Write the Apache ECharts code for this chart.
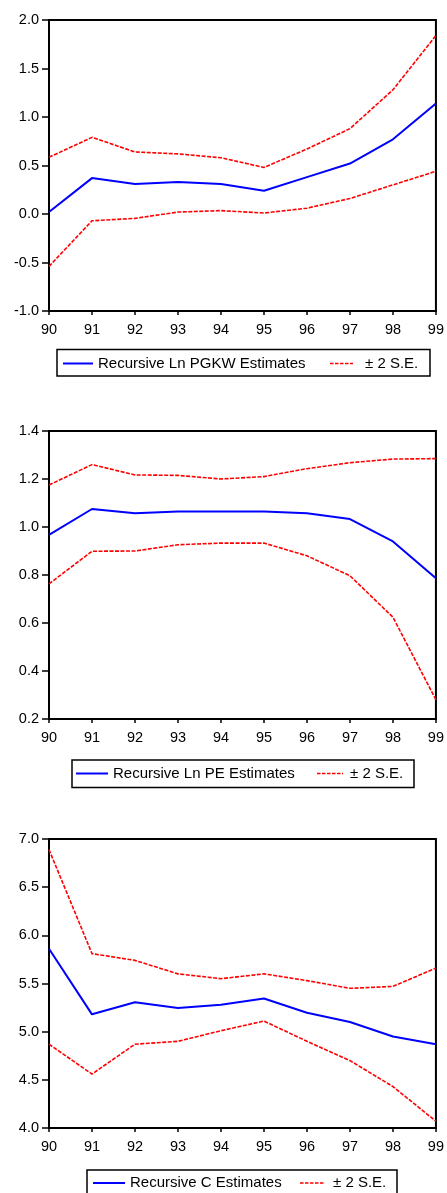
<!DOCTYPE html>
<html>
<head>
<meta charset="utf-8">
<script src="https://cdn.jsdelivr.net/npm/echarts@6/dist/echarts.min.js"></script>
<style>
html,body{margin:0;padding:0;background:#fff;}
#chart{width:447px;height:1193px;}
</style>
</head>
<body>
<div id="chart"></div>
<script>
// ---- data ----
const years = ['90','91','92','93','94','95','96','97','98','99'];

const pgkwEst   = [0.02, 0.37, 0.31, 0.33, 0.31, 0.24, 0.38, 0.52, 0.77, 1.14];
const pgkwUpper = [0.585, 0.79, 0.64, 0.62, 0.58, 0.48, 0.67, 0.88, 1.28, 1.84];
const pgkwLower = [-0.54, -0.07, -0.045, 0.02, 0.035, 0.01, 0.06, 0.16, 0.30, 0.44];

const peEst   = [0.967, 1.075, 1.057, 1.065, 1.065, 1.065, 1.057, 1.033, 0.94, 0.786];
const peUpper = [1.175, 1.26, 1.217, 1.215, 1.20, 1.21, 1.243, 1.268, 1.283, 1.285];
const peLower = [0.763, 0.899, 0.90, 0.926, 0.933, 0.933, 0.88, 0.797, 0.624, 0.28];

const cEst   = [5.86, 5.18, 5.306, 5.245, 5.28, 5.345, 5.196, 5.10, 4.95, 4.87];
const cUpper = [6.89, 5.81, 5.74, 5.60, 5.55, 5.60, 5.53, 5.45, 5.47, 5.66];
const cLower = [4.87, 4.56, 4.87, 4.90, 5.01, 5.11, 4.90, 4.70, 4.43, 4.07];

const estNames = ['Recursive Ln PGKW Estimates', 'Recursive Ln PE Estimates', 'Recursive C Estimates'];
const seName = '\u00b1 2 S.E.';

const yTicks = [
  {min: -1.0, max: 2.0, interval: 0.5},
  {min: 0.2, max: 1.4, interval: 0.2},
  {min: 4.0, max: 7.0, interval: 0.5}
];

// ---- layout ----
const FONT = '"Liberation Sans", Arial, sans-serif';
const grids = [
  {left: 49, right: 10, top: 20, height: 291},
  {left: 49, right: 10, top: 431, height: 288},
  {left: 49, right: 10, top: 839, height: 289}
];
const legends = [
  {x: 57, y: 349.5, w: 373, h: 26.5, cy: 363.5, b0: 63, b1: 93, t1: 98, r0: 330, r1: 353, t2: 365},
  {x: 72, y: 760, w: 342, h: 27.5, cy: 773.5, b0: 76, b1: 108, t1: 113, r0: 317, r1: 343, t2: 350},
  {x: 87, y: 1170, w: 310, h: 28, cy: 1183, b0: 93, b1: 125, t1: 130, r0: 300, r1: 325, t2: 333}
];

const panels = [
  [pgkwEst, pgkwUpper, pgkwLower],
  [peEst, peUpper, peLower],
  [cEst, cUpper, cLower]
];

const option = {
  animation: false,
  backgroundColor: '#fff',
  grid: grids.map(g => Object.assign({show: true, borderColor: '#000', borderWidth: 2, backgroundColor: 'transparent'}, g)),
  xAxis: grids.map((g, i) => ({
    type: 'category', gridIndex: i, data: years, boundaryGap: false,
    axisLine: {onZero: false, lineStyle: {color: '#000', width: 2}},
    axisTick: {show: true, length: 4, lineStyle: {color: '#000', width: 1.5}},
    axisLabel: {color: '#000', fontSize: 14.5, fontFamily: FONT, margin: 11, showMinLabel: true, showMaxLabel: true, interval: 0},
    splitLine: {show: false}
  })),
  yAxis: yTicks.map((t, i) => ({
    type: 'value', gridIndex: i, min: t.min, max: t.max, interval: t.interval,
    axisLine: {show: true, onZero: false, lineStyle: {color: '#000', width: 2}},
    axisTick: {show: true, length: 7, lineStyle: {color: '#000', width: 1.5}},
    axisLabel: {color: '#000', fontSize: 14.5, fontFamily: FONT, margin: 10,
      formatter: v => v.toFixed(1)},
    splitLine: {show: false}
  })),
  series: [],
  graphic: []
};

panels.forEach((p, i) => {
  option.series.push({
    type: 'line', name: estNames[i], xAxisIndex: i, yAxisIndex: i, data: p[0],
    symbol: 'none', lineStyle: {color: '#0000ff', width: 2}, z: 3
  });
  [p[1], p[2]].forEach(d => option.series.push({
    type: 'line', name: seName, xAxisIndex: i, yAxisIndex: i, data: d,
    symbol: 'none', lineStyle: {color: '#ff0000', width: 1.6, type: [4, 1.5]}, z: 2
  }));
});

legends.forEach((L, i) => {
  option.graphic.push(
    {type: 'rect', shape: {x: L.x, y: L.y, width: L.w, height: L.h},
     style: {fill: '#fff', stroke: '#000', lineWidth: 1.5}},
    {type: 'line', shape: {x1: L.b0, y1: L.cy, x2: L.b1, y2: L.cy},
     style: {stroke: '#0000ff', lineWidth: 2}},
    {type: 'text', x: L.t1, y: L.cy,
     style: {text: estNames[i], fill: '#000', font: '15px ' + FONT, textVerticalAlign: 'middle', verticalAlign: 'middle'}},
    {type: 'line', shape: {x1: L.r0, y1: L.cy, x2: L.r1, y2: L.cy},
     style: {stroke: '#ff0000', lineWidth: 1.6, lineDash: [3.5, 1.5]}},
    {type: 'text', x: L.t2, y: L.cy,
     style: {text: seName, fill: '#000', font: '15px ' + FONT, textVerticalAlign: 'middle', verticalAlign: 'middle'}}
  );
});

const chart = echarts.init(document.getElementById('chart'), null, {renderer: 'canvas'});
chart.setOption(option);
</script>
</body>
</html>
